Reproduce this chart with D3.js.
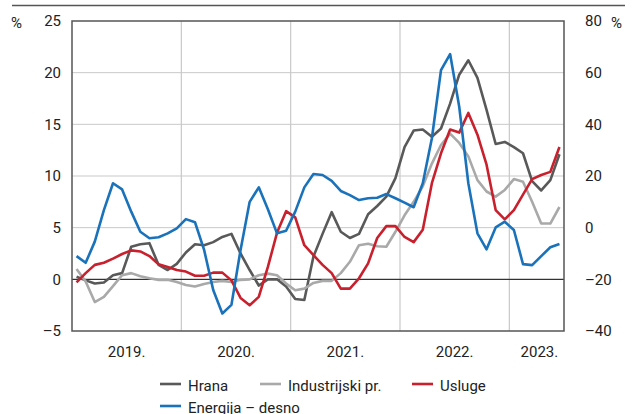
<!DOCTYPE html>
<html>
<head>
<meta charset="utf-8">
<script src="https://cdn.jsdelivr.net/npm/d3@7"></script>
<style>
  body { margin: 0; background: #fff; }
  svg text { font-family: "Liberation Sans Narrow", "Arial Narrow", Roboto, sans-serif; fill: #222; }
</style>
</head>
<body>
<svg id="chart" width="634" height="414"></svg>
<script>
// monthly data, Jan 2019 - Jun 2023
const YEARS = ["2019.", "2020.", "2021.", "2022.", "2023."];
const LEFT_TICKS = [-5, 0, 5, 10, 15, 20, 25];
const RIGHT_TICKS = [-40, -20, 0, 20, 40, 60, 80];

const hrana = [0.25, -0.1, -0.4, -0.3, 0.4, 0.6, 3.15, 3.4, 3.5, 1.4, 0.9, 1.5,
  2.6, 3.4, 3.3, 3.6, 4.1, 4.4, 2.5, 0.9, -0.6, 0, 0, -0.7,
  -1.9, -2.0, 2.2, 4.4, 6.5, 4.6, 4.0, 4.4, 6.3, 7.1, 8.0, 9.8,
  12.8, 14.4, 14.5, 13.8, 14.6, 17.0, 19.8, 21.2, 19.5, 16.4, 13.1, 13.3,
  12.8, 12.2, 9.5, 8.6, 9.6, 12.1];
const industrijski = [1.0, -0.2, -2.2, -1.7, -0.65, 0.4, 0.6, 0.3, 0.1, -0.05, -0.05, -0.25,
  -0.55, -0.7, -0.45, -0.25, -0.15, -0.25, -0.05, 0, 0.4, 0.55, 0.4, -0.4,
  -1.05, -0.9, -0.35, -0.15, -0.15, 0.6, 1.7, 3.3, 3.45, 3.2, 3.15, 4.6,
  6.2, 7.5, 9.0, 11.2, 13.0, 14.1, 13.2, 11.9, 9.6, 8.5, 8.0, 8.65,
  9.7, 9.45, 7.5, 5.4, 5.4, 7.0];
const usluge = [-0.3, 0.6, 1.4, 1.6, 2.0, 2.45, 2.8, 2.7, 2.25, 1.45, 1.2, 0.9,
  0.75, 0.35, 0.35, 0.65, 0.65, -0.1, -1.8, -2.5, -1.7, 1.2, 4.5, 6.6,
  6.0, 3.3, 2.35, 1.4, 0.6, -0.9, -0.9, 0.1, 1.55, 4.0, 5.15, 5.15,
  4.1, 3.6, 4.8, 9.3, 12.2, 14.5, 14.2, 16.1, 14.0, 11.1, 6.7, 5.8,
  6.7, 8.2, 9.7, 10.1, 10.4, 12.8];
// right axis
const energija = [-11, -13.6, -5.4, 6.8, 17.2, 14.8, 6.2, -1.6, -4.1, -3.7, -2.2, -0.25,
  3.3, 2.1, -8.6, -24.1, -33.2, -29.9, -8.6, 10, 15.6, 7.1, -2.2, -1.2,
  6.2, 15.6, 20.8, 20.4, 18.1, 14.2, 12.6, 10.7, 11.4, 11.6, 13, 11.4,
  9.7, 7.9, 17.2, 34.6, 61, 67.2, 46.8, 17.2, -2.2, -8.4, 0.1, 2.3,
  -0.9, -14.1, -14.5, -11, -7.6, -6.3];

const series = [
  { name: "Hrana", values: hrana, color: "#595959", axis: "left" },
  { name: "Industrijski pr.", values: industrijski, color: "#a9a9a9", axis: "left" },
  { name: "Usluge", values: usluge, color: "#c8202d", axis: "left" },
  { name: "Energija – desno", values: energija, color: "#1a72ba", axis: "right" }
];

const PLOT = { left: 72, right: 564, top: 21, bottom: 331 };
const nMonths = hrana.length;

const svg = d3.select("#chart");

const x = d3.scaleLinear().domain([0, nMonths]).range([PLOT.left, PLOT.right]);
const yL = d3.scaleLinear().domain([-5, 25]).range([PLOT.bottom, PLOT.top]);
const yR = d3.scaleLinear().domain([-40, 80]).range([PLOT.bottom, PLOT.top]);

// top rule
svg.append("line")
  .attr("x1", 12).attr("x2", 625).attr("y1", 5.5).attr("y2", 5.5)
  .attr("stroke", "#555").attr("stroke-width", 1.5);

// grid
svg.append("g")
  .selectAll("line")
  .data(LEFT_TICKS.slice(1, -1))
  .join("line")
  .attr("x1", PLOT.left).attr("x2", PLOT.right)
  .attr("y1", d => yL(d)).attr("y2", d => yL(d))
  .attr("stroke", "#c9c9c9").attr("stroke-width", 1);

svg.append("g")
  .selectAll("line")
  .data(YEARS.slice(1).map((d, i) => (i + 1) * 12))
  .join("line")
  .attr("x1", d => x(d)).attr("x2", d => x(d))
  .attr("y1", PLOT.top).attr("y2", PLOT.bottom)
  .attr("stroke", "#c9c9c9").attr("stroke-width", 1.2);

// zero line
svg.append("line")
  .attr("x1", PLOT.left).attr("x2", PLOT.right)
  .attr("y1", yL(0)).attr("y2", yL(0))
  .attr("stroke", "#111").attr("stroke-width", 1);

// frame
svg.append("rect")
  .attr("x", PLOT.left).attr("y", PLOT.top)
  .attr("width", PLOT.right - PLOT.left).attr("height", PLOT.bottom - PLOT.top)
  .attr("fill", "none").attr("stroke", "#555").attr("stroke-width", 1.5);

// axes labels
const fmt = d => d < 0 ? "\u2013" + Math.abs(d) : d;
const leftAxis = svg.append("g")
  .attr("transform", `translate(${PLOT.left},0)`)
  .call(d3.axisLeft(yL).tickValues(LEFT_TICKS).tickSize(0).tickPadding(11).tickFormat(fmt));
leftAxis.select(".domain").remove();

const rightAxis = svg.append("g")
  .attr("transform", `translate(${PLOT.right},0)`)
  .call(d3.axisRight(yR).tickValues(RIGHT_TICKS).tickSize(0).tickPadding(21).tickFormat(fmt));
rightAxis.select(".domain").remove();

svg.selectAll(".tick text")
  .attr("font-size", 15).attr("fill", "#222")
  .attr("font-family", "Liberation Sans Narrow, Arial Narrow, Roboto, sans-serif");

svg.append("text").attr("x", 11).attr("y", 28).attr("font-size", 15).text("%");
svg.append("text").attr("x", 611).attr("y", 28).attr("font-size", 15).text("%");

// year labels
svg.append("g")
  .selectAll("text")
  .data(YEARS)
  .join("text")
  .attr("x", (d, i) => i < YEARS.length - 1 ? x(i * 12 + 6) : x((i * 12 + nMonths) / 2 + 0.3))
  .attr("y", 357)
  .attr("text-anchor", "middle")
  .attr("font-size", 15)
  .text(d => d);

// lines
const lineL = d3.line().x((d, i) => x(i + 0.5)).y(d => yL(d));
const lineR = d3.line().x((d, i) => x(i + 0.5)).y(d => yR(d));

svg.append("g")
  .selectAll("path")
  .data(series)
  .join("path")
  .attr("d", s => (s.axis === "left" ? lineL : lineR)(s.values))
  .attr("fill", "none")
  .attr("stroke", s => s.color)
  .attr("stroke-width", 2.6)
  .attr("stroke-linejoin", "round");

// legend
const legendPos = [[160, 384], [260, 384], [412, 384], [160, 406]];
const legend = svg.append("g")
  .selectAll("g")
  .data(series)
  .join("g")
  .attr("transform", (d, i) => `translate(${legendPos[i][0]},${legendPos[i][1]})`);
legend.append("line")
  .attr("x1", 0).attr("x2", 21)
  .attr("stroke", d => d.color).attr("stroke-width", 2.6);
legend.append("text")
  .attr("x", 28).attr("y", 6.5)
  .attr("font-size", 15)
  .text(d => d.name);
</script>
</body>
</html>
